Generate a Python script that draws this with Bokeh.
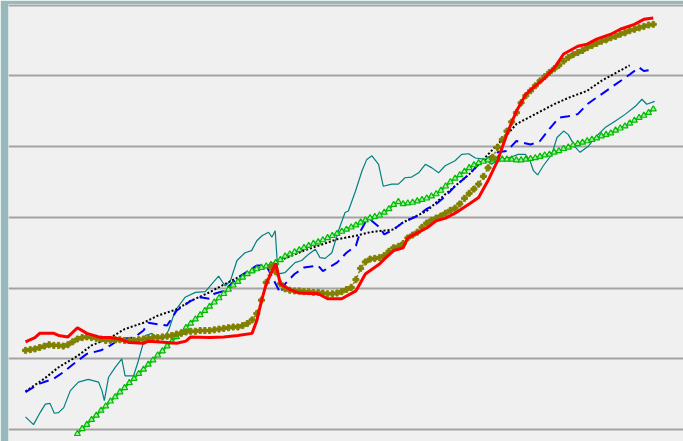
from bokeh.plotting import figure
from bokeh.models import Range1d, FixedTicker
from bokeh.embed import file_html
from bokeh.resources import INLINE

# ---- data (x = period index, y = value) ----
grid_values = [0, 10, 20, 30, 40, 50, 60]

red_x = [0, 2, 3, 6, 7, 9, 11, 13, 16, 18, 20, 22, 25, 26, 30, 32, 34, 35, 39, 42,
         45, 48, 49, 50, 51, 53, 54, 56, 58, 62, 64, 67, 70, 72, 75, 76, 78, 80, 81, 83,
         85, 87, 89, 91, 94, 96, 98, 100, 102, 104, 106, 108, 110, 112, 114, 117, 119,
         121, 124, 126, 129, 131, 133]
red_v = [12.4, 13.0, 13.6, 13.6, 13.3, 13.1, 14.4, 13.6, 13.0, 13.0, 12.8, 12.3, 12.2, 12.5,
         12.3, 12.2, 12.5, 13.1, 13.0, 13.1, 13.3, 13.6, 15.4, 18.2, 20.6, 23.5, 20.6, 19.8,
         19.3, 19.2, 18.5, 18.5, 19.6, 22.0, 23.4, 24.1, 25.3, 25.7, 27.1, 27.8, 28.5, 29.5,
         29.9, 30.6, 31.9, 32.8, 35.2, 38.0, 41.8, 45.0, 47.4, 48.6, 49.7, 51.1, 53.1, 54.2,
         54.5, 55.2, 55.9, 56.6, 57.3, 58.0, 58.2]

olive_v = [11.2, 11.3, 11.4, 11.6, 11.8, 12.0, 11.9, 11.9, 11.8, 12.0,
           12.4, 12.8, 13.0, 13.1, 13.0, 12.9, 12.8, 12.6, 12.6, 12.7,
           12.7, 12.6, 12.6, 12.6, 12.7, 12.8, 12.9, 13.0, 13.0, 13.1,
           13.2, 13.3, 13.5, 13.6, 13.8, 13.9, 13.9, 14.0, 14.0, 14.0,
           14.1, 14.2, 14.3, 14.4, 14.5, 14.5, 14.7, 15.0, 15.5, 16.4,
           18.3, 20.8, 23.0, 22.3, 20.6, 19.9, 19.7, 19.6, 19.6, 19.5,
           19.5, 19.4, 19.4, 19.3, 19.2, 19.2, 19.3, 19.5, 19.8, 20.1,
           21.2, 22.8, 23.7, 24.1, 24.2, 24.3, 24.6, 25.2, 25.7, 25.9,
           26.3, 27.1, 27.5, 27.9, 28.6, 29.2, 29.6, 29.9, 30.2, 30.6,
           31.0, 31.3, 31.9, 32.7, 33.4, 34.0, 34.7, 35.8, 37.0, 38.5,
           39.9, 41.0, 42.2, 43.5, 44.8, 46.2, 47.2, 47.9, 48.6, 49.3,
           49.9, 50.5, 51.0, 51.5, 52.1, 52.6, 53.0, 53.3, 53.6, 54.0,
           54.3, 54.6, 54.9, 55.1, 55.4, 55.6, 55.9, 56.1, 56.4, 56.6,
           56.8, 57.0, 57.2, 57.3]
olive_x = list(range(len(olive_v)))

black_x = [0, 4, 7, 11, 14, 18, 21, 25, 28, 32, 35, 39, 42, 45, 52, 59, 66, 70, 73, 78,
           80, 85, 89, 94, 98, 102, 104, 108, 112, 115, 119, 122, 125, 128]
black_v = [5.4, 7.2, 8.8, 10.4, 11.9, 13.0, 14.2, 15.1, 16.1, 17.0, 18.2, 19.4, 20.5, 21.5,
           23.4, 25.3, 26.9, 27.4, 27.9, 28.3, 29.3, 30.9, 33.3, 36.1, 38.9, 41.7, 43.2,
           44.6, 46.0, 46.9, 47.9, 49.3, 50.4, 51.5]

blue_x = [0, 3, 6, 8, 11, 13, 16, 18, 20, 23, 25, 26, 28, 30, 32, 35, 37, 39, 40, 42,
          45, 49, 51, 54, 55, 57, 59, 62, 63, 66, 68, 70, 71, 72, 73, 75, 76, 78, 80, 83,
          85, 87, 89, 91, 94, 96, 98, 100, 102, 104, 107, 109, 111, 113, 115, 117, 119,
          122, 125, 128, 130, 131, 133]
blue_v = [5.3, 6.5, 7.2, 8.1, 9.7, 10.7, 11.2, 11.9, 12.8, 13.0, 14.0, 15.1, 14.9, 14.7,
          16.8, 18.2, 18.7, 18.5, 19.2, 19.6, 21.5, 23.2, 23.2, 19.3, 20.6, 22.0, 22.9,
          23.2, 22.4, 23.6, 25.0, 26.0, 28.1, 29.3, 29.7, 28.6, 27.6, 28.3, 29.3, 30.2,
          31.2, 31.9, 33.0, 34.4, 36.1, 37.5, 38.4, 39.2, 39.4, 40.8, 40.3, 40.8, 42.5,
          44.1, 44.3, 44.6, 46.0, 47.4, 48.8, 50.2, 51.2, 50.7, 50.9]

teal_x = [0, 1.7, 3.1, 4.2, 5.2, 6.1, 7.0, 8.1, 9.5, 11.2, 13.3, 15.5, 16.2, 16.7, 17.6,
          19.0, 20.4, 21.1, 22.9, 23.9, 25.4, 26.8, 28.2, 29.2, 30.3, 31.7, 33.8, 36.0,
          38.1, 39.5, 40.9, 42.3, 43.4, 44.8, 46.5, 47.9, 49.0, 50.1, 51.5, 52.2, 52.9,
          53.5, 55.0, 57.1, 58.5, 60.0, 61.4, 62.4, 63.5, 64.9, 66.3, 67.7, 68.4, 69.9,
          71.3, 72.3, 73.4, 74.8, 75.8, 77.6, 79.0, 80.4, 81.8, 83.3, 84.7, 86.1, 87.5,
          88.9, 91.0, 92.4, 93.9, 95.3, 97.4, 98.8, 100.2, 102.3, 104.4, 105.9, 106.9,
          107.6, 108.5, 109.7, 111.5, 112.6, 114.0, 115.0, 116.5, 117.5, 119.3, 120.7,
          122.8, 124.9, 127.1, 129.2, 130.6, 131.6, 133.3]
teal_v = [1.8, 0.7, 2.4, 3.6, 3.7, 2.3, 2.4, 3.1, 5.5, 6.7, 7.1, 6.7, 5.5, 4.1, 7.4,
          8.8, 10.0, 7.6, 7.6, 9.7, 13.3, 13.6, 12.9, 12.8, 14.0, 16.8, 18.7, 19.4,
          19.5, 20.6, 21.7, 20.3, 21.0, 23.9, 25.0, 25.3, 26.7, 27.4, 27.9, 27.2, 28.1,
          22.0, 22.2, 23.6, 23.9, 24.8, 25.5, 24.3, 24.2, 25.0, 28.1, 30.7, 30.9, 33.7,
          36.6, 38.2, 38.7, 37.5, 34.4, 34.7, 34.7, 35.6, 35.7, 36.3, 37.5, 37.0, 36.3,
          37.3, 38.0, 38.9, 39.0, 38.4, 38.2, 37.5, 38.2, 38.4, 38.9, 38.9, 38.0,
          36.6, 36.0, 37.3, 38.9, 41.3, 42.2, 41.7, 39.9, 39.2, 40.1, 41.3,
          42.7, 43.6, 44.6, 45.7, 46.7, 46.0, 46.4]

green_start = 11
green_v = [-0.6, 0.1, 0.7, 1.4, 2.0, 2.7, 3.3, 4.0, 4.6, 5.3,
           5.9, 6.6, 7.2, 7.9, 8.5, 9.2, 9.8, 10.5, 11.1, 11.8,
           12.4, 13.1, 13.7, 14.4, 15.0, 15.6, 16.2, 16.8, 17.4, 18.0,
           18.6, 19.2, 19.8, 20.4, 20.9, 21.5, 22.0, 22.4, 22.7, 22.9,
           23.1, 23.3, 23.6, 24.0, 24.5, 24.8, 25.1, 25.4, 25.7, 26.0,
           26.3, 26.5, 26.8, 27.1, 27.4, 27.7, 28.0, 28.3, 28.6, 28.9,
           29.3, 29.6, 29.9, 30.1, 30.3, 30.7, 31.2, 31.8, 32.2, 31.9,
           32.0, 32.1, 32.3, 32.5, 32.7, 33.0, 33.3, 33.8, 34.4, 35.0,
           35.5, 36.0, 36.5, 37.0, 37.4, 37.7, 37.9, 38.1, 38.1, 38.2,
           38.2, 38.2, 38.2, 38.1, 38.1, 38.2, 38.3, 38.4, 38.6, 38.8,
           38.9, 39.2, 39.4, 39.7, 39.9, 40.2, 40.4, 40.6, 40.8, 41.0,
           41.2, 41.5, 41.7, 41.9, 42.3, 42.6, 42.9, 43.3, 43.7, 44.1,
           44.4, 44.8, 45.3]
green_x = list(range(green_start, green_start + len(green_v)))

# ---- figure ----
p = figure(width=683, height=441, output_backend="svg", toolbar_location=None,
           x_range=Range1d(-3.6, 139.4), y_range=Range1d(-1.69, 60.1),
           x_axis_location=None, y_axis_location=None,
           min_border_left=8, min_border_top=4, min_border_right=0, min_border_bottom=0,
           background_fill_color="#f0f0f0", border_fill_color="#97b9bc")
p.outline_line_color = None
p.xgrid.visible = False
p.ygrid.ticker = FixedTicker(ticks=grid_values)
p.ygrid.grid_line_color = "#a3a3a3"
p.ygrid.grid_line_width = 2

p.line(teal_x, teal_v, line_color="#008080", line_width=1.2)
p.line(black_x, black_v, line_color="#000000", line_width=2, line_dash="2 2")
p.line(blue_x, blue_v, line_color="#0000ff", line_width=2, line_dash="10 6")
p.line(green_x, green_v, line_color="#00cc00", line_width=2)
p.scatter(green_x, green_v, marker="triangle", size=6, line_color="#00bb00",
          fill_color="#a8eca8", line_width=1.2)
p.line(olive_x, olive_v, line_color="#808000", line_width=1.5, line_dash="2 2")
p.scatter(olive_x, olive_v, marker="plus", size=6, color="#808000")
p.line(red_x, red_v, line_color="#ff0000", line_width=3)

open("out.html", "w").write(file_html(p, INLINE))
